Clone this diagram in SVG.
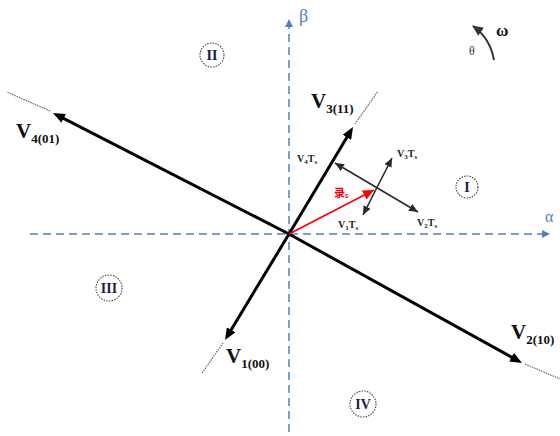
<svg xmlns="http://www.w3.org/2000/svg" width="560" height="436" viewBox="0 0 560 436">
<style>
.axis{stroke:#4f81bd;stroke-width:1.5;stroke-dasharray:8,5;fill:none}
.vec{stroke:#000;stroke-width:3;fill:none}
.ext{stroke:#666;stroke-width:1.2;stroke-dasharray:1.5,1;fill:none}
.thin{stroke:#2a2a2a;stroke-width:1.6;fill:none}
.reg{fill:none;stroke:#444;stroke-width:1.1;stroke-dasharray:1.5,1.2}
.rn{font-family:"Liberation Serif",serif;font-size:14px;font-weight:bold;fill:#1a1a4a;text-anchor:middle}
.vl{font-family:"Liberation Serif",serif;font-weight:bold;fill:#111}
.ax{font-family:"Liberation Serif",serif;fill:#4f81bd}
.sm{font-family:"Liberation Serif",serif;font-weight:bold;font-size:10px;fill:#222}
</style>
<defs>
<marker id="ab" markerUnits="userSpaceOnUse" markerWidth="13" markerHeight="10" refX="4" refY="5" orient="auto"><path d="M0,0 L12,5 L0,10 z" fill="#000"/></marker>
<marker id="ad" markerUnits="userSpaceOnUse" markerWidth="10" markerHeight="8" refX="9" refY="4" orient="auto-start-reverse"><path d="M0,0 L9,4 L0,8 z" fill="#2a2a2a"/></marker>
<marker id="ar" markerUnits="userSpaceOnUse" markerWidth="12" markerHeight="10" refX="11" refY="5" orient="auto"><path d="M0,0 L11,5 L0,10 z" fill="#f00"/></marker>
<marker id="aa" markerUnits="userSpaceOnUse" markerWidth="10" markerHeight="8" refX="8" refY="4" orient="auto"><path d="M0,0 L8,4 L0,8 z" fill="#4f81bd"/></marker>
<marker id="aw" markerUnits="userSpaceOnUse" markerWidth="12" markerHeight="10" refX="10" refY="5" orient="auto"><path d="M0,0 L11,5 L0,10 z" fill="#333"/></marker>
</defs>
<g id="connectors">
<line class="axis" x1="30" y1="234" x2="550" y2="234" marker-end="url(#aa)"/>
<line class="axis" x1="289" y1="432" x2="289" y2="19" marker-end="url(#aa)"/>
<line class="ext" x1="355" y1="124" x2="378" y2="91"/>
<line class="ext" x1="223" y1="343" x2="202" y2="373"/>
<line class="ext" x1="50" y1="111" x2="7" y2="92"/>
<line class="ext" x1="525" y1="364" x2="560" y2="379"/>
<line class="vec" x1="289" y1="234" x2="348.9" y2="133.9" marker-end="url(#ab)"/>
<line class="vec" x1="289" y1="234" x2="229.1" y2="333.2" marker-end="url(#ab)"/>
<line class="vec" x1="289" y1="234" x2="60.1" y2="116.6" marker-end="url(#ab)"/>
<line class="vec" x1="289" y1="234" x2="515" y2="359.1" marker-end="url(#ab)"/>
<line class="thin" x1="335" y1="163" x2="418" y2="212" marker-start="url(#ad)" marker-end="url(#ad)"/>
<line class="thin" x1="392" y1="158" x2="363" y2="215" marker-start="url(#ad)" marker-end="url(#ad)"/>
<line x1="289" y1="234" x2="374" y2="190" stroke="#f00" stroke-width="1.6" marker-end="url(#ar)"/>
<path d="M494,60 Q490,38 473,26" stroke="#333" stroke-width="2" fill="none" marker-end="url(#aw)"/>
</g>
<g id="axis-labels">
<text class="ax" x="299" y="22" font-size="18">β</text>
<text class="ax" x="545" y="222" font-size="16">α</text>
</g>
<g id="V3"><text class="vl" x="311" y="108" font-size="21">V<tspan font-size="13" dy="5">3(11)</tspan></text></g>
<g id="V4"><text class="vl" x="16" y="138" font-size="21">V<tspan font-size="13" dy="5">4(01)</tspan></text></g>
<g id="V1"><text class="vl" x="226" y="363" font-size="21">V<tspan font-size="13" dy="5">1(00)</tspan></text></g>
<g id="V2"><text class="vl" x="511" y="339" font-size="21">V<tspan font-size="13" dy="5">2(10)</tspan></text></g>
<g id="labels">
<text class="sm" x="297" y="162">V<tspan font-size="7" dy="2">4</tspan><tspan dy="-2">T</tspan><tspan font-size="7" dy="2">s</tspan></text>
<text class="sm" x="397" y="157">V<tspan font-size="7" dy="2">3</tspan><tspan dy="-2">T</tspan><tspan font-size="7" dy="2">s</tspan></text>
<text class="sm" x="338" y="228">V<tspan font-size="7" dy="2">1</tspan><tspan dy="-2">T</tspan><tspan font-size="7" dy="2">s</tspan></text>
<text class="sm" x="417" y="226">V<tspan font-size="7" dy="2">2</tspan><tspan dy="-2">T</tspan><tspan font-size="7" dy="2">s</tspan></text>
<text x="334" y="197" font-family="'Noto Sans CJK SC',sans-serif" font-size="11" font-weight="bold" fill="#f00">录<tspan font-size="7" dy="1">s</tspan></text>
<text x="496" y="36" font-family="'Liberation Serif',serif" font-weight="bold" font-size="17" fill="#111">ω</text>
<text x="469" y="55" font-family="'Liberation Serif',serif" font-size="12" fill="#333">θ</text>
</g>
<g id="region-I"><circle class="reg" cx="467" cy="187" r="11"/><text class="rn" x="467" y="192">I</text></g>
<g id="region-II"><circle class="reg" cx="212" cy="55" r="12"/><text class="rn" x="212" y="60">II</text></g>
<g id="region-III"><circle class="reg" cx="109" cy="288" r="13"/><text class="rn" x="109" y="293">III</text></g>
<g id="region-IV"><circle class="reg" cx="363" cy="404" r="13"/><text class="rn" x="363" y="409">IV</text></g>
</svg>
